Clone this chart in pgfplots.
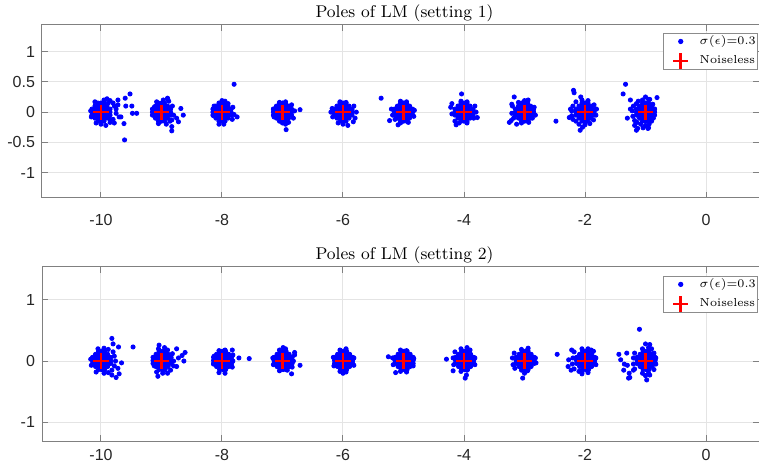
\documentclass[border=0pt]{standalone}
\usepackage{fontspec}
\usepackage{pgfplots}
\pgfplotsset{compat=1.18}
\newfontfamily\ticksf{Liberation Sans}
\definecolor{axgray}{RGB}{128,128,128}
\definecolor{gridgray}{RGB}{228,228,228}
\definecolor{ticktext}{RGB}{38,38,38}
\definecolor{legedge}{RGB}{140,140,140}

\pgfplotsset{
  poles/.style={
    scale only axis, width=358.5pt,
    xmin=-10.975, xmax=0.876,
    xtick={-10,-8,-6,-4,-2,0},
    grid=major, major grid style={gridgray, line width=0.5pt},
    axis line style={axgray, line width=0.5pt},
    tick style={axgray, line width=0.5pt}, tick align=inside,
    major tick length=3pt,
    ticklabel style={font=\ticksf\fontsize{8}{9}\selectfont, text=ticktext},
    /pgf/number format/assume math mode=true,
    every axis title/.style={font=\fontsize{8.5}{10}\selectfont, at={(0.5056,1)}, anchor=base, yshift=3.8pt},
    legend style={anchor=north east, draw=legedge, fill=white, line width=0.5pt,
      font=\fontsize{5.8}{7}\selectfont, inner xsep=0.4pt, inner ysep=0.6pt, row sep=2.5pt,
      nodes={inner xsep=0.5pt, inner ysep=0.5pt}},
    legend cell align=left,
  },
  noisy/.style={only marks, mark=*, mark size=1.05pt, mark options={draw=blue, fill=blue},
    legend image code/.code={\path[draw=none] (0pt,0pt) -- (17pt,0pt); \draw[##1] plot coordinates {(8pt,0pt)};}},
  clean/.style={only marks, mark=+, mark size=3.8pt, mark options={draw=red, line width=1.3pt},
    legend image code/.code={\path[draw=none] (0pt,0pt) -- (17pt,0pt); \draw[##1] plot coordinates {(8pt,0pt)};}},
}

\begin{document}
\begin{tikzpicture}
\path[use as bounding box] (-21pt,-136pt) rectangle (358.5pt,99pt);

% ---------------- setting 1 ----------------
\begin{axis}[poles, at={(0,0)}, anchor=south west, height=86.5pt,
  ymin=-1.42, ymax=1.44, ytick={-1,-0.5,0,0.5,1},
  x tick label style={yshift=-4.8pt},
  legend style={at={(0.9986,0.955)}},
  title={Poles of LM (setting 1)}]
\addplot[noisy] coordinates {
% -10
(-10.05,0.15) (-10,0.15) (-9.95,0.15)
(-10.1,0.1) (-10.05,0.1) (-10,0.1) (-9.95,0.1) (-9.9,0.1)
(-10.15,0.05) (-10.1,0.05) (-10.05,0.05) (-10,0.05) (-9.95,0.05) (-9.9,0.05) (-9.85,0.05)
(-10.15,0) (-10.1,0) (-10.05,0) (-10,0) (-9.95,0) (-9.9,0) (-9.85,0)
(-10.15,-0.05) (-10.1,-0.05) (-10.05,-0.05) (-10,-0.05) (-9.95,-0.05) (-9.9,-0.05) (-9.85,-0.05)
(-10.1,-0.1) (-10.05,-0.1) (-10,-0.1) (-9.95,-0.1) (-9.9,-0.1)
(-10.05,-0.15) (-10,-0.15) (-9.95,-0.15)
(-9.8,0.15) (-9.78,0.1) (-9.75,0.05) (-9.75,-0.02) (-9.8,-0.12) (-9.78,-0.18) (-10.1,0.17)
(-9.95,0.2) (-9.9,0.22) (-9.85,0.19) (-10,-0.2) (-9.92,-0.22) (-10.08,-0.18) (-10.17,0.02)
(-10.16,-0.08) (-9.72,0.12) (-9.7,-0.08) (-9.85,-0.12) (-9.88,0.15) (-9.85,-0.17)
(-9.6,0.23) (-9.52,0.3) (-9.59,0.1) (-9.49,0.1) (-9.48,-0.02) (-9.41,-0.02) (-9.62,-0.19)
(-9.61,-0.46) (-9.67,-0.08) (-9.72,0.2)
% -9
(-9.05,0.15) (-9,0.15) (-8.95,0.15)
(-9.1,0.1) (-9.05,0.1) (-9,0.1) (-8.95,0.1) (-8.9,0.1)
(-9.15,0.05) (-9.1,0.05) (-9.05,0.05) (-9,0.05) (-8.95,0.05) (-8.9,0.05) (-8.85,0.05)
(-9.15,0) (-9.1,0) (-9.05,0) (-9,0) (-8.95,0) (-8.9,0) (-8.85,0)
(-9.15,-0.05) (-9.1,-0.05) (-9.05,-0.05) (-9,-0.05) (-8.95,-0.05) (-8.9,-0.05) (-8.85,-0.05)
(-9.1,-0.1) (-9.05,-0.1) (-9,-0.1) (-8.95,-0.1) (-8.9,-0.1)
(-9.05,-0.15) (-9,-0.15) (-8.95,-0.15)
(-9.12,0.08) (-9.13,-0.05) (-8.88,0.18) (-8.9,0.22) (-8.82,0.1) (-8.8,-0.05) (-8.83,-0.13)
(-8.92,-0.2) (-9.05,-0.19) (-9.08,0.17) (-8.97,0.2) (-8.86,-0.15)
(-8.68,0.06) (-8.64,-0.05) (-8.83,-0.24) (-8.83,-0.31) (-8.72,-0.16) (-8.9,0.23) (-8.75,-0.1)
% -8
(-8.05,0.15) (-8,0.15) (-7.95,0.15)
(-8.1,0.1) (-8.05,0.1) (-8,0.1) (-7.95,0.1) (-7.9,0.1)
(-8.15,0.05) (-8.1,0.05) (-8.05,0.05) (-8,0.05) (-7.95,0.05) (-7.9,0.05) (-7.85,0.05)
(-8.15,0) (-8.1,0) (-8.05,0) (-8,0) (-7.95,0) (-7.9,0) (-7.85,0)
(-8.15,-0.05) (-8.1,-0.05) (-8.05,-0.05) (-8,-0.05) (-7.95,-0.05) (-7.9,-0.05) (-7.85,-0.05)
(-8.1,-0.1) (-8.05,-0.1) (-8,-0.1) (-7.95,-0.1) (-7.9,-0.1)
(-8.05,-0.15) (-8,-0.15) (-7.95,-0.15)
(-8.13,0.1) (-8.14,-0.06) (-7.82,0.08) (-7.8,-0.04) (-7.83,-0.12) (-8,0.19) (-7.95,0.18)
(-8.05,-0.2) (-7.97,-0.2) (-7.9,0.14)
(-7.8,0.46) (-7.75,-0.08)
% -7
(-7.05,0.15) (-7,0.15) (-6.95,0.15)
(-7.1,0.1) (-7.05,0.1) (-7,0.1) (-6.95,0.1) (-6.9,0.1)
(-7.15,0.05) (-7.1,0.05) (-7.05,0.05) (-7,0.05) (-6.95,0.05) (-6.9,0.05) (-6.85,0.05)
(-7.15,0) (-7.1,0) (-7.05,0) (-7,0) (-6.95,0) (-6.9,0) (-6.85,0)
(-7.15,-0.05) (-7.1,-0.05) (-7.05,-0.05) (-7,-0.05) (-6.95,-0.05) (-6.9,-0.05) (-6.85,-0.05)
(-7.1,-0.1) (-7.05,-0.1) (-7,-0.1) (-6.95,-0.1) (-6.9,-0.1)
(-7.05,-0.15) (-7,-0.15) (-6.95,-0.15)
(-7.15,0.05) (-7.14,-0.08) (-6.8,0.02) (-6.82,-0.1) (-6.85,0.12) (-7.05,0.16) (-6.95,0.17)
(-7,-0.18) (-6.9,-0.17)
(-6.71,0.04) (-6.94,-0.29) (-6.95,-0.2)
% -6
(-6.05,0.15) (-6,0.15) (-5.95,0.15)
(-6.1,0.1) (-6.05,0.1) (-6,0.1) (-5.95,0.1) (-5.9,0.1)
(-6.15,0.05) (-6.1,0.05) (-6.05,0.05) (-6,0.05) (-5.95,0.05) (-5.9,0.05) (-5.85,0.05)
(-6.15,0) (-6.1,0) (-6.05,0) (-6,0) (-5.95,0) (-5.9,0) (-5.85,0)
(-6.15,-0.05) (-6.1,-0.05) (-6.05,-0.05) (-6,-0.05) (-5.95,-0.05) (-5.9,-0.05) (-5.85,-0.05)
(-6.1,-0.1) (-6.05,-0.1) (-6,-0.1) (-5.95,-0.1) (-5.9,-0.1)
(-6.05,-0.15) (-6,-0.15) (-5.95,-0.15)
(-6.2,0) (-6.18,0.06) (-6.17,-0.08) (-5.78,0) (-5.8,-0.1) (-5.82,0.1) (-6.05,0.17)
(-5.95,0.16) (-6,-0.2) (-5.92,-0.22) (-6.08,-0.18)
(-5.83,-0.16)
% -5
(-5.05,0.15) (-5,0.15) (-4.95,0.15)
(-5.1,0.1) (-5.05,0.1) (-5,0.1) (-4.95,0.1) (-4.9,0.1)
(-5.15,0.05) (-5.1,0.05) (-5.05,0.05) (-5,0.05) (-4.95,0.05) (-4.9,0.05) (-4.85,0.05)
(-5.15,0) (-5.1,0) (-5.05,0) (-5,0) (-4.95,0) (-4.9,0) (-4.85,0)
(-5.15,-0.05) (-5.1,-0.05) (-5.05,-0.05) (-5,-0.05) (-4.95,-0.05) (-4.9,-0.05) (-4.85,-0.05)
(-5.1,-0.1) (-5.05,-0.1) (-5,-0.1) (-4.95,-0.1) (-4.9,-0.1)
(-5.05,-0.15) (-5,-0.15) (-4.95,-0.15)
(-5.2,0.05) (-5.18,-0.05) (-4.82,0.03) (-4.83,-0.07) (-5.05,0.18) (-4.95,0.17) (-5.05,-0.18)
(-4.92,-0.17) (-5.14,-0.12)
(-5.37,0.23) (-5.23,-0.14) (-5.09,-0.21)
% -4
(-4.05,0.15) (-4,0.15) (-3.95,0.15)
(-4.1,0.1) (-4.05,0.1) (-4,0.1) (-3.95,0.1) (-3.9,0.1)
(-4.15,0.05) (-4.1,0.05) (-4.05,0.05) (-4,0.05) (-3.95,0.05) (-3.9,0.05) (-3.85,0.05)
(-4.15,0) (-4.1,0) (-4.05,0) (-4,0) (-3.95,0) (-3.9,0) (-3.85,0)
(-4.15,-0.05) (-4.1,-0.05) (-4.05,-0.05) (-4,-0.05) (-3.95,-0.05) (-3.9,-0.05) (-3.85,-0.05)
(-4.1,-0.1) (-4.05,-0.1) (-4,-0.1) (-3.95,-0.1) (-3.9,-0.1)
(-4.05,-0.15) (-4,-0.15) (-3.95,-0.15)
(-4.22,0.08) (-4.2,-0.03) (-4.2,0.14) (-3.8,0) (-3.82,0.1) (-3.84,-0.1) (-4.05,0.18)
(-3.95,0.17) (-4.08,-0.18) (-3.95,-0.18) (-4.15,-0.15)
(-4.04,0.3) (-3.78,-0.09) (-4.13,-0.21)
% -3
(-3.05,0.15) (-3,0.15) (-2.95,0.15)
(-3.1,0.1) (-3.05,0.1) (-3,0.1) (-2.95,0.1) (-2.9,0.1)
(-3.15,0.05) (-3.1,0.05) (-3.05,0.05) (-3,0.05) (-2.95,0.05) (-2.9,0.05) (-2.85,0.05)
(-3.15,0) (-3.1,0) (-3.05,0) (-3,0) (-2.95,0) (-2.9,0) (-2.85,0)
(-3.15,-0.05) (-3.1,-0.05) (-3.05,-0.05) (-3,-0.05) (-2.95,-0.05) (-2.9,-0.05) (-2.85,-0.05)
(-3.1,-0.1) (-3.05,-0.1) (-3,-0.1) (-2.95,-0.1) (-2.9,-0.1)
(-3.05,-0.15) (-3,-0.15) (-2.95,-0.15)
(-3.2,0.1) (-3.21,-0.02) (-3.18,-0.1) (-2.85,0) (-2.84,0.08) (-2.87,-0.1) (-3,0.19)
(-2.95,0.18) (-3.05,-0.18) (-2.93,-0.17) (-3.1,0.16)
(-3.17,0.25) (-2.94,0.2) (-3.25,-0.17) (-3.13,-0.2) (-2.82,-0.05) (-3.21,0.13) (-3.22,-0.14)
% -2
(-2.05,0.15) (-2,0.15) (-1.95,0.15)
(-2.1,0.1) (-2.05,0.1) (-2,0.1) (-1.95,0.1) (-1.9,0.1)
(-2.15,0.05) (-2.1,0.05) (-2.05,0.05) (-2,0.05) (-1.95,0.05) (-1.9,0.05) (-1.85,0.05)
(-2.15,0) (-2.1,0) (-2.05,0) (-2,0) (-1.95,0) (-1.9,0) (-1.85,0)
(-2.15,-0.05) (-2.1,-0.05) (-2.05,-0.05) (-2,-0.05) (-1.95,-0.05) (-1.9,-0.05) (-1.85,-0.05)
(-2.1,-0.1) (-2.05,-0.1) (-2,-0.1) (-1.95,-0.1) (-1.9,-0.1)
(-2.05,-0.15) (-2,-0.15) (-1.95,-0.15)
(-2.2,0.1) (-2.22,0.02) (-2.22,-0.06) (-2.2,-0.12) (-1.81,0.05) (-1.82,-0.05) (-1.85,0.12)
(-1.86,-0.13) (-2.05,0.2) (-1.95,0.19) (-2.1,-0.2) (-2,-0.21) (-1.92,-0.19) (-2.15,0.17)
(-2.04,-0.25) (-2.15,-0.15)
(-2.48,-0.15) (-2.19,0.36) (-2.18,0.32) (-2.07,0.25) (-2.26,-0.09) (-2.08,-0.3) (-2.24,0.05)
% -1
(-1.05,0.15) (-1,0.15) (-0.95,0.15)
(-1.1,0.1) (-1.05,0.1) (-1,0.1) (-0.95,0.1) (-0.9,0.1)
(-1.15,0.05) (-1.1,0.05) (-1.05,0.05) (-1,0.05) (-0.95,0.05) (-0.9,0.05) (-0.85,0.05)
(-1.15,0) (-1.1,0) (-1.05,0) (-1,0) (-0.95,0) (-0.9,0) (-0.85,0)
(-1.15,-0.05) (-1.1,-0.05) (-1.05,-0.05) (-1,-0.05) (-0.95,-0.05) (-0.9,-0.05) (-0.85,-0.05)
(-1.1,-0.1) (-1.05,-0.1) (-1,-0.1) (-0.95,-0.1) (-0.9,-0.1)
(-1.05,-0.15) (-1,-0.15) (-0.95,-0.15)
(-1.2,0.1) (-1.22,0.02) (-1.21,-0.07) (-1.18,-0.14) (-0.85,0.05) (-0.86,-0.05) (-0.88,0.13)
(-0.9,-0.15) (-1.05,0.2) (-0.95,0.21) (-1,0.25) (-1.08,-0.2) (-1,-0.22) (-0.94,-0.2)
(-1.12,0.18) (-0.96,-0.27) (-1.04,-0.26) (-1.25,0.05) (-1.15,0.14) (-1.14,-0.17)
(-1.33,0.46) (-1.37,0.3) (-0.81,0.24) (-0.93,0.21) (-1.3,-0.1) (-1.15,-0.3) (-1.13,-0.27)
(-0.87,-0.1) (-0.95,-0.26) (-1.25,0.2) (-1.18,-0.22)
};
\addlegendentry{$\sigma(\epsilon)$=0.3}
\addplot[clean] coordinates {
(-10,0) (-9,0) (-8,0) (-7,0) (-6,0) (-5,0) (-4,0) (-3,0) (-2,0) (-1,0)
};
\addlegendentry{Noiseless}
\end{axis}

% ---------------- setting 2 ----------------
\begin{axis}[poles, at={(0,-121.5pt)}, anchor=south west, height=87pt,
  ymin=-1.31, ymax=1.54, ytick={-1,0,1},
  x tick label style={yshift=-0.5pt},
  legend style={at={(0.9986,0.95)}},
  title={Poles of LM (setting 2)}]
\addplot[noisy] coordinates {
% -10
(-10.04,0.16) (-9.99,0.16) (-9.94,0.16)
(-10.09,0.11) (-10.04,0.11) (-9.99,0.11) (-9.94,0.11) (-9.89,0.11)
(-10.14,0.06) (-10.09,0.06) (-10.04,0.06) (-9.99,0.06) (-9.94,0.06) (-9.89,0.06) (-9.84,0.06)
(-10.14,0.01) (-10.09,0.01) (-10.04,0.01) (-9.99,0.01) (-9.94,0.01) (-9.89,0.01) (-9.84,0.01)
(-10.14,-0.04) (-10.09,-0.04) (-10.04,-0.04) (-9.99,-0.04) (-9.94,-0.04) (-9.89,-0.04) (-9.84,-0.04)
(-10.09,-0.09) (-10.04,-0.09) (-9.99,-0.09) (-9.94,-0.09) (-9.89,-0.09)
(-10.04,-0.14) (-9.99,-0.14) (-9.94,-0.14)
(-9.8,0.15) (-9.78,0.08) (-9.76,0) (-9.78,-0.08) (-9.82,-0.15) (-10.17,0.03) (-10.16,-0.07)
(-10.05,0.2) (-9.95,0.21) (-9.88,0.19) (-10.08,-0.18) (-9.95,-0.2) (-9.88,-0.19)
(-9.82,0.37) (-9.8,0.28) (-9.71,0.23) (-9.47,0.23) (-9.75,-0.27) (-9.82,-0.23) (-9.7,-0.21)
(-9.66,-0.03) (-9.72,-0.12)
% -9
(-9.04,0.16) (-8.99,0.16) (-8.94,0.16)
(-9.09,0.11) (-9.04,0.11) (-8.99,0.11) (-8.94,0.11) (-8.89,0.11)
(-9.14,0.06) (-9.09,0.06) (-9.04,0.06) (-8.99,0.06) (-8.94,0.06) (-8.89,0.06) (-8.84,0.06)
(-9.14,0.01) (-9.09,0.01) (-9.04,0.01) (-8.99,0.01) (-8.94,0.01) (-8.89,0.01) (-8.84,0.01)
(-9.14,-0.04) (-9.09,-0.04) (-9.04,-0.04) (-8.99,-0.04) (-8.94,-0.04) (-8.89,-0.04) (-8.84,-0.04)
(-9.09,-0.09) (-9.04,-0.09) (-8.99,-0.09) (-8.94,-0.09) (-8.89,-0.09)
(-9.04,-0.14) (-8.99,-0.14) (-8.94,-0.14)
(-9.12,0.05) (-9.12,-0.08) (-8.82,0.12) (-8.8,0) (-8.8,-0.08) (-8.85,-0.15) (-9.05,0.2)
(-8.95,0.22) (-8.9,0.18) (-9.08,-0.18) (-8.98,-0.2) (-8.9,-0.2)
(-8.61,0.14) (-8.66,0.09) (-8.75,0.2) (-8.63,0) (-9.04,0.26) (-9.06,-0.25) (-8.75,-0.09)
(-8.72,0.05)
% -8
(-8.04,0.16) (-7.99,0.16) (-7.94,0.16)
(-8.09,0.11) (-8.04,0.11) (-7.99,0.11) (-7.94,0.11) (-7.89,0.11)
(-8.14,0.06) (-8.09,0.06) (-8.04,0.06) (-7.99,0.06) (-7.94,0.06) (-7.89,0.06) (-7.84,0.06)
(-8.14,0.01) (-8.09,0.01) (-8.04,0.01) (-7.99,0.01) (-7.94,0.01) (-7.89,0.01) (-7.84,0.01)
(-8.14,-0.04) (-8.09,-0.04) (-8.04,-0.04) (-7.99,-0.04) (-7.94,-0.04) (-7.89,-0.04) (-7.84,-0.04)
(-8.09,-0.09) (-8.04,-0.09) (-7.99,-0.09) (-7.94,-0.09) (-7.89,-0.09)
(-8.04,-0.14) (-7.99,-0.14) (-7.94,-0.14)
(-8.13,0.08) (-8.14,-0.05) (-7.82,0.1) (-7.82,0) (-7.83,-0.1) (-8.05,0.17) (-7.95,0.18)
(-8.05,-0.19) (-7.95,-0.2)
(-7.72,0.05) (-7.55,0.04) (-7.83,0.18)
% -7
(-7.04,0.16) (-6.99,0.16) (-6.94,0.16)
(-7.09,0.11) (-7.04,0.11) (-6.99,0.11) (-6.94,0.11) (-6.89,0.11)
(-7.14,0.06) (-7.09,0.06) (-7.04,0.06) (-6.99,0.06) (-6.94,0.06) (-6.89,0.06) (-6.84,0.06)
(-7.14,0.01) (-7.09,0.01) (-7.04,0.01) (-6.99,0.01) (-6.94,0.01) (-6.89,0.01) (-6.84,0.01)
(-7.14,-0.04) (-7.09,-0.04) (-7.04,-0.04) (-6.99,-0.04) (-6.94,-0.04) (-6.89,-0.04) (-6.84,-0.04)
(-7.09,-0.09) (-7.04,-0.09) (-6.99,-0.09) (-6.94,-0.09) (-6.89,-0.09)
(-7.04,-0.14) (-6.99,-0.14) (-6.94,-0.14)
(-7.16,0.05) (-7.15,-0.06) (-6.8,0.1) (-6.82,0) (-6.84,-0.1) (-7.05,0.18) (-6.95,0.2)
(-7.05,-0.16) (-6.92,-0.15)
(-6.99,0.22) (-6.71,-0.07) (-6.85,-0.21) (-6.8,0.14)
% -6
(-6.04,0.16) (-5.99,0.16) (-5.94,0.16)
(-6.09,0.11) (-6.04,0.11) (-5.99,0.11) (-5.94,0.11) (-5.89,0.11)
(-6.14,0.06) (-6.09,0.06) (-6.04,0.06) (-5.99,0.06) (-5.94,0.06) (-5.89,0.06) (-5.84,0.06)
(-6.14,0.01) (-6.09,0.01) (-6.04,0.01) (-5.99,0.01) (-5.94,0.01) (-5.89,0.01) (-5.84,0.01)
(-6.14,-0.04) (-6.09,-0.04) (-6.04,-0.04) (-5.99,-0.04) (-5.94,-0.04) (-5.89,-0.04) (-5.84,-0.04)
(-6.09,-0.09) (-6.04,-0.09) (-5.99,-0.09) (-5.94,-0.09) (-5.89,-0.09)
(-6.04,-0.14) (-5.99,-0.14) (-5.94,-0.14)
(-6.16,0.06) (-6.15,-0.08) (-5.82,0.05) (-5.82,-0.07) (-6.05,0.18) (-5.95,0.2) (-6.05,-0.17)
(-5.95,-0.18) (-6,-0.2)
% -5
(-5.04,0.16) (-4.99,0.16) (-4.94,0.16)
(-5.09,0.11) (-5.04,0.11) (-4.99,0.11) (-4.94,0.11) (-4.89,0.11)
(-5.14,0.06) (-5.09,0.06) (-5.04,0.06) (-4.99,0.06) (-4.94,0.06) (-4.89,0.06) (-4.84,0.06)
(-5.14,0.01) (-5.09,0.01) (-5.04,0.01) (-4.99,0.01) (-4.94,0.01) (-4.89,0.01) (-4.84,0.01)
(-5.14,-0.04) (-5.09,-0.04) (-5.04,-0.04) (-4.99,-0.04) (-4.94,-0.04) (-4.89,-0.04) (-4.84,-0.04)
(-5.09,-0.09) (-5.04,-0.09) (-4.99,-0.09) (-4.94,-0.09) (-4.89,-0.09)
(-5.04,-0.14) (-4.99,-0.14) (-4.94,-0.14)
(-5.18,0.05) (-5.17,-0.06) (-4.83,0.04) (-4.84,-0.08) (-5.05,0.18) (-4.95,0.17) (-5.05,-0.17)
(-4.95,-0.18)
(-5.25,0.07) (-5.13,-0.19)
% -4
(-4.04,0.16) (-3.99,0.16) (-3.94,0.16)
(-4.09,0.11) (-4.04,0.11) (-3.99,0.11) (-3.94,0.11) (-3.89,0.11)
(-4.14,0.06) (-4.09,0.06) (-4.04,0.06) (-3.99,0.06) (-3.94,0.06) (-3.89,0.06) (-3.84,0.06)
(-4.14,0.01) (-4.09,0.01) (-4.04,0.01) (-3.99,0.01) (-3.94,0.01) (-3.89,0.01) (-3.84,0.01)
(-4.14,-0.04) (-4.09,-0.04) (-4.04,-0.04) (-3.99,-0.04) (-3.94,-0.04) (-3.89,-0.04) (-3.84,-0.04)
(-4.09,-0.09) (-4.04,-0.09) (-3.99,-0.09) (-3.94,-0.09) (-3.89,-0.09)
(-4.04,-0.14) (-3.99,-0.14) (-3.94,-0.14)
(-4.18,0.05) (-4.17,-0.06) (-4.15,0.15) (-3.82,0.05) (-3.82,-0.06) (-4.05,0.2) (-3.95,0.22)
(-3.9,0.18) (-4.05,-0.17) (-3.95,-0.15)
(-4.29,0.03) (-4.18,-0.16) (-3.98,-0.28) (-3.96,-0.23)
% -3
(-3.04,0.16) (-2.99,0.16) (-2.94,0.16)
(-3.09,0.11) (-3.04,0.11) (-2.99,0.11) (-2.94,0.11) (-2.89,0.11)
(-3.14,0.06) (-3.09,0.06) (-3.04,0.06) (-2.99,0.06) (-2.94,0.06) (-2.89,0.06) (-2.84,0.06)
(-3.14,0.01) (-3.09,0.01) (-3.04,0.01) (-2.99,0.01) (-2.94,0.01) (-2.89,0.01) (-2.84,0.01)
(-3.14,-0.04) (-3.09,-0.04) (-3.04,-0.04) (-2.99,-0.04) (-2.94,-0.04) (-2.89,-0.04) (-2.84,-0.04)
(-3.09,-0.09) (-3.04,-0.09) (-2.99,-0.09) (-2.94,-0.09) (-2.89,-0.09)
(-3.04,-0.14) (-2.99,-0.14) (-2.94,-0.14)
(-3.2,0.05) (-3.19,-0.06) (-3.17,0.13) (-2.82,0.05) (-2.81,-0.03) (-3.05,0.19) (-2.95,0.18)
(-3.05,-0.15) (-2.95,-0.16)
(-2.94,0.21) (-3.03,-0.28) (-3.16,-0.12) (-3,-0.2)
% -2
(-2.04,0.16) (-1.99,0.16) (-1.94,0.16)
(-2.09,0.11) (-2.04,0.11) (-1.99,0.11) (-1.94,0.11) (-1.89,0.11)
(-2.14,0.06) (-2.09,0.06) (-2.04,0.06) (-1.99,0.06) (-1.94,0.06) (-1.89,0.06) (-1.84,0.06)
(-2.14,0.01) (-2.09,0.01) (-2.04,0.01) (-1.99,0.01) (-1.94,0.01) (-1.89,0.01) (-1.84,0.01)
(-2.14,-0.04) (-2.09,-0.04) (-2.04,-0.04) (-1.99,-0.04) (-1.94,-0.04) (-1.89,-0.04) (-1.84,-0.04)
(-2.09,-0.09) (-2.04,-0.09) (-1.99,-0.09) (-1.94,-0.09) (-1.89,-0.09)
(-2.04,-0.14) (-1.99,-0.14) (-1.94,-0.14)
(-2.2,0.05) (-2.21,-0.05) (-2.18,0.15) (-2.18,-0.13) (-1.82,0.05) (-1.82,-0.06) (-1.86,0.16)
(-2.05,0.2) (-1.95,0.2) (-1.9,0.18) (-2.05,-0.18) (-1.95,-0.19) (-2.1,-0.17)
(-2.46,0.11) (-2.28,-0.09) (-2.22,0.18) (-2.23,-0.15) (-2.05,-0.21) (-2.27,0.02)
% -1
(-1.04,0.16) (-0.99,0.16) (-0.94,0.16)
(-1.09,0.11) (-1.04,0.11) (-0.99,0.11) (-0.94,0.11) (-0.89,0.11)
(-1.14,0.06) (-1.09,0.06) (-1.04,0.06) (-0.99,0.06) (-0.94,0.06) (-0.89,0.06) (-0.84,0.06)
(-1.14,0.01) (-1.09,0.01) (-1.04,0.01) (-0.99,0.01) (-0.94,0.01) (-0.89,0.01) (-0.84,0.01)
(-1.14,-0.04) (-1.09,-0.04) (-1.04,-0.04) (-0.99,-0.04) (-0.94,-0.04) (-0.89,-0.04) (-0.84,-0.04)
(-1.09,-0.09) (-1.04,-0.09) (-0.99,-0.09) (-0.94,-0.09) (-0.89,-0.09)
(-1.04,-0.14) (-0.99,-0.14) (-0.94,-0.14)
(-1.2,0.05) (-1.2,-0.05) (-1.18,0.13) (-1.18,-0.13) (-0.83,0.05) (-0.83,-0.05) (-0.86,0.13)
(-0.86,-0.14) (-1.05,0.2) (-0.95,0.22) (-0.9,0.2) (-1,0.28) (-0.93,0.27) (-1.05,-0.2)
(-0.95,-0.2) (-1,-0.24)
(-1.1,0.52) (-1.44,0.11) (-1.41,0.02) (-1.31,0.13) (-1.36,-0.15) (-1.28,-0.28) (-1.26,-0.27)
(-0.98,-0.31) (-0.93,-0.23) (-1.3,-0.07) (-1.2,-0.15) (-1.27,-0.2) (-1.35,-0.05)
};
\addlegendentry{$\sigma(\epsilon)$=0.3}
\addplot[clean] coordinates {
(-10,0) (-9,0) (-8,0) (-7,0) (-6,0) (-5,0) (-4,0) (-3,0) (-2,0) (-1,0)
};
\addlegendentry{Noiseless}
\end{axis}
\end{tikzpicture}
\end{document}
